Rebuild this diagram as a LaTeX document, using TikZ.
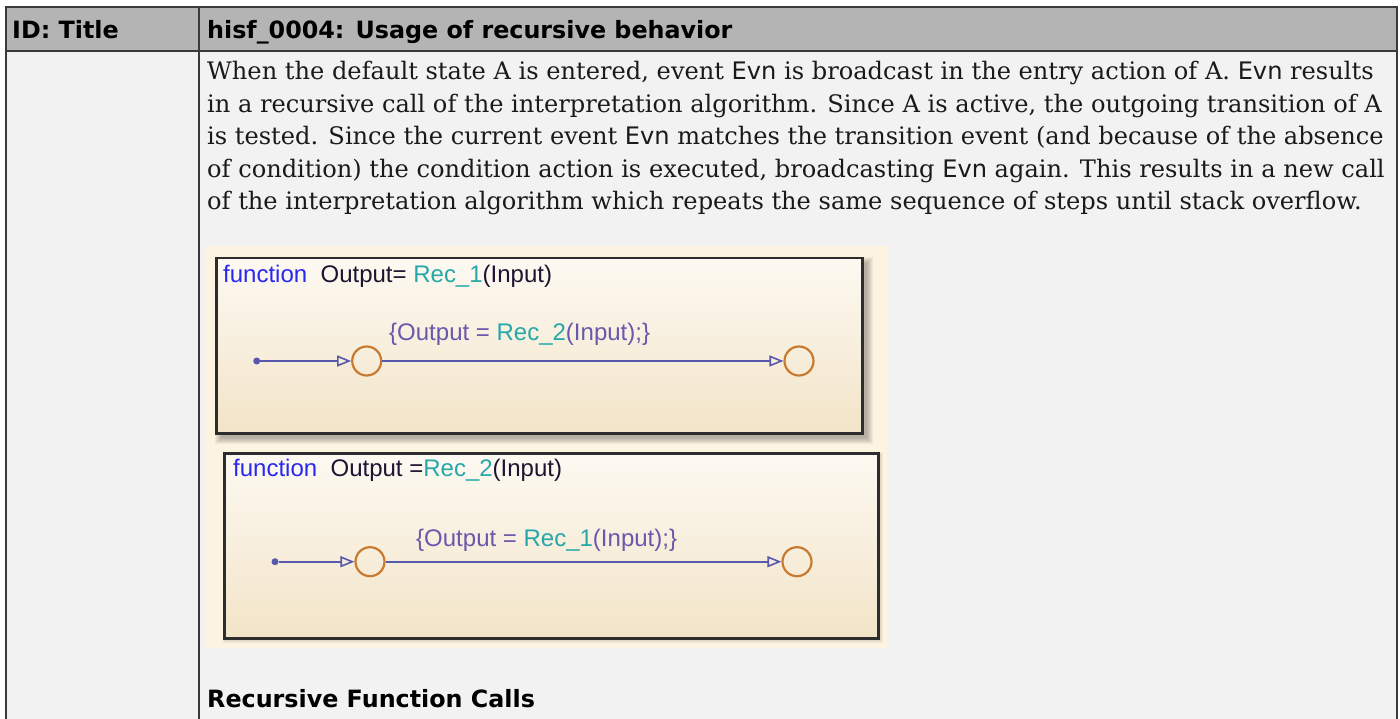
\documentclass[tikz,border=0pt]{standalone}
\usepackage{fontspec}
\setmainfont{DejaVu Serif}
\newfontfamily\hdfont{DejaVu Sans}
\newfontfamily\codefont{DejaVu Sans}
\newfontfamily\chartfont{Liberation Sans}
\usetikzlibrary{arrows.meta}

\definecolor{cellbg}{RGB}{242,242,242}
\definecolor{headbg}{RGB}{180,180,180}
\definecolor{rulecol}{RGB}{58,58,58}
\definecolor{bodytext}{RGB}{26,26,26}
\definecolor{diagbg}{RGB}{253,243,225}
\definecolor{boxtop}{RGB}{253,249,242}
\definecolor{boxbot}{RGB}{242,228,200}
\definecolor{boxline}{RGB}{45,45,45}
\definecolor{fnblue}{RGB}{40,40,240}
\definecolor{fnteal}{RGB}{38,168,168}
\definecolor{transcol}{RGB}{88,88,172}
\definecolor{lblcol}{RGB}{105,88,172}
\definecolor{junccol}{RGB}{200,122,48}
\definecolor{sigtext}{RGB}{30,20,50}

\newcommand{\Evn}{{\codefont Evn}}

\tikzset{
  rule/.style={draw=rulecol, line width=1.6},
  hdtext/.style={anchor=base west, inner sep=0, font=\hdfont\bfseries\fontsize{23.8}{28}\selectfont, text=black},
  bodyline/.style={anchor=base west, inner sep=0, font=\fontsize{24.1}{29}\selectfont, text=bodytext},
  chartbox/.style={draw=boxline, line width=2.5, top color=boxtop, bottom color=boxbot, anchor=north west, inner sep=0},
  sigline/.style={anchor=base west, inner sep=0, font=\chartfont\fontsize{24}{27}\selectfont, text=sigtext},
  translabel/.style={anchor=base west, inner sep=0, font=\chartfont\fontsize{24}{27}\selectfont, text=lblcol},
  junction/.style={circle, draw=junccol, line width=2.2, minimum size=29, inner sep=0},
  defdot/.style={circle, fill=transcol, minimum size=7, inner sep=0},
  trans/.style={draw=transcol, line width=2, -{Triangle[open, length=14, width=11, line width=1.6]}},
}

\begin{document}
\begin{tikzpicture}[x=1pt, y=-1pt]
  \useasboundingbox (0,0) rectangle (1400,719);
  \fill[white] (0,0) rectangle (1400,719);

  % table cells
  \fill[cellbg] (6,7) rectangle (1397,719);
  \fill[headbg] (6,7) rectangle (1397,51);
  \draw[rule] (6,719) -- (6,7) -- (1397,7) -- (1397,719);
  \draw[rule] (6,51) -- (1397,51);
  \draw[rule] (199,7) -- (199,719);

  % header row
  \node[hdtext] (hid) at (12,39) {ID: Title};
  \node[hdtext] (htitle) at (207,39) {hisf\_0004: Usage of recursive behavior};

  % description
  \node[bodyline] (l1) at (207,80) {When the default state A is entered, event \Evn{} is broadcast in the entry action of A. \Evn{} results};
  \node[bodyline] (l2) at (207,112.5) {in a recursive call of the interpretation algorithm. Since A is active, the outgoing transition of A};
  \node[bodyline] (l3) at (207,145) {is tested. Since the current event \Evn{} matches the transition event (and because of the absence};
  \node[bodyline] (l4) at (207,177.5) {of condition) the condition action is executed, broadcasting \Evn{} again. This results in a new call};
  \node[bodyline] (l5) at (207,210) {of the interpretation algorithm which repeats the same sequence of steps until stack overflow.};

  % chart area
  \fill[diagbg] (205,246) rectangle (887,648);

  % soft shadows under the two function boxes
  \foreach \s in {0,...,6} {
    \fill[black, opacity=0.045] (221-\s,263-\s) rectangle (867+\s,438+\s);
  }
  \foreach \s in {0,...,3} {
    \fill[black, opacity=0.04] (226-\s,455-\s) rectangle (880+\s,640+\s);
  }

  % function Rec_1
  \node[chartbox, minimum width=646, minimum height=175] (f1) at (215,257) {};
  \node[sigline] (f1sig) at (223,283) {\textcolor{fnblue}{function}\ \ Output= \textcolor{fnteal}{Rec\_1}(Input)};
  \node[defdot] (d1) at (256.7,361) {};
  \node[junction] (a1) at (366.7,361) {};
  \node[junction] (b1) at (799,361) {};
  \draw[trans] (d1) -- (a1);
  \draw[trans] (a1) -- (b1);
  \node[translabel] (t1) at (389,340) {\{Output = \textcolor{fnteal}{Rec\_2}(Input);\}};

  % function Rec_2
  \node[chartbox, minimum width=654, minimum height=185] (f2) at (223,452) {};
  \node[sigline] (f2sig) at (233,476) {\textcolor{fnblue}{function}\ \ Output =\textcolor{fnteal}{Rec\_2}(Input)};
  \node[defdot] (d2) at (275,561.7) {};
  \node[junction] (a2) at (370,561.7) {};
  \node[junction] (b2) at (797,561.7) {};
  \draw[trans] (d2) -- (a2);
  \draw[trans] (a2) -- (b2);
  \node[translabel] (t2) at (416,546.7) {\{Output = \textcolor{fnteal}{Rec\_1}(Input);\}};

  % caption
  \node[hdtext] (cap) at (207,707.7) {Recursive Function Calls};
\end{tikzpicture}
\end{document}
